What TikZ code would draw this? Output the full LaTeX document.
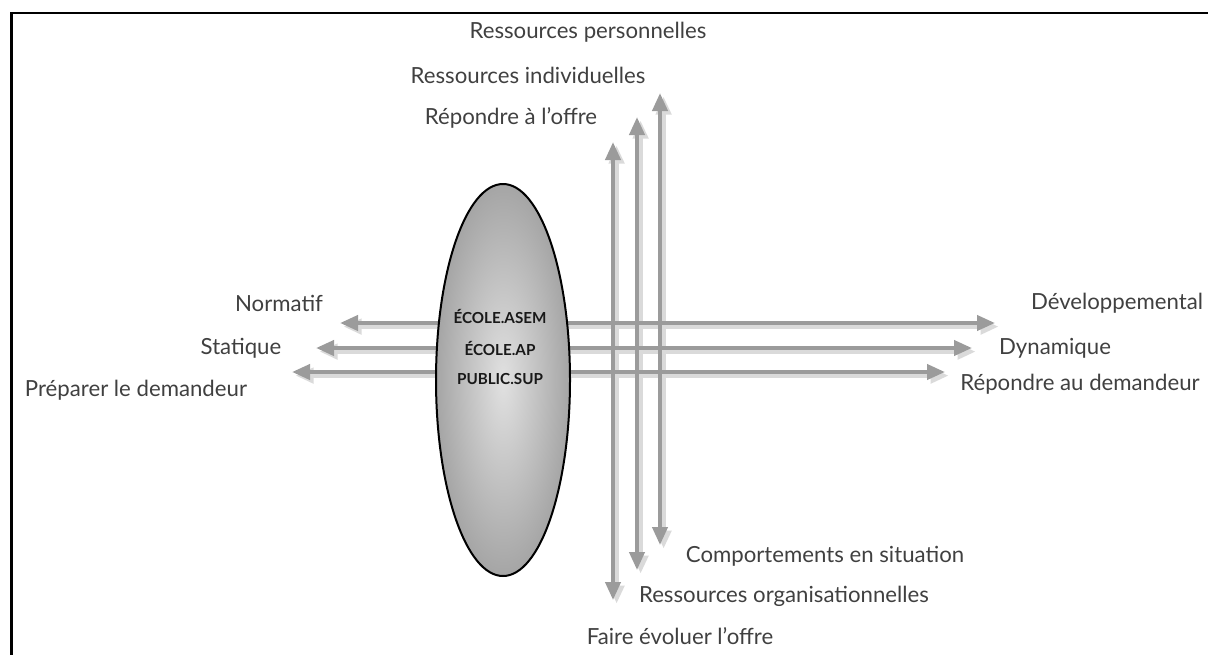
\documentclass[tikz,border=0pt]{standalone}
\usepackage{fontspec}
\setmainfont{Lato}
\usetikzlibrary{arrows.meta,shapes.geometric}
\definecolor{txt}{RGB}{64,64,64}
\definecolor{arr}{RGB}{155,155,155}
\definecolor{shd}{RGB}{218,218,218}
\tikzset{
  lbl/.style={text=txt,font=\fontsize{11.1}{13}\selectfont,inner sep=0pt},
  ell/.style={text=black!90,font=\bfseries\fontsize{7.6}{9}\selectfont,inner sep=0pt},
  arrboth/.style={draw=arr,line width=2pt,arrows={Triangle[length=9pt,width=7.5pt]-Triangle[length=9pt,width=7.5pt]}},
  shdline/.style={draw=shd,line width=2.5pt,arrows={Triangle[length=9pt,width=7.5pt]-Triangle[length=9pt,width=7.5pt]}},
}
\begin{document}
\begin{tikzpicture}[x=0.5pt,y=-0.5pt]
\useasboundingbox (0,0) rectangle (1208,654);
% frame
\draw[line width=1.2pt,line cap=rect] (11.5,660) -- (11.5,13) -- (1215,13);
% coordinates of arrow tips
\coordinate (h1l) at (340,323); \coordinate (h1r) at (995,323);
\coordinate (h2l) at (316,348); \coordinate (h2r) at (972,348);
\coordinate (h3l) at (292,372); \coordinate (h3r) at (945,372);
\coordinate (v1t) at (613,142); \coordinate (v1b) at (613,600);
\coordinate (v2t) at (637,117); \coordinate (v2b) at (637,570);
\coordinate (v3t) at (660,93);  \coordinate (v3b) at (660,545);
% shadows
\foreach \a/\b in {h1l/h1r,h2l/h2r,h3l/h3r,v1t/v1b,v2t/v2b,v3t/v3b}
  \draw[shdline,transform canvas={shift={(1.8pt,-1.8pt)}}] (\a) -- (\b);
% horizontal arrows
\draw[arrboth] (h1l) -- (h1r);
\draw[arrboth] (h2l) -- (h2r);
\draw[arrboth] (h3l) -- (h3r);
% ellipse
\node[ellipse,draw=black,line width=1pt,minimum width=67pt,minimum height=196pt,
      inner color={rgb,255:red,225;green,225;blue,225},outer color={rgb,255:red,165;green,165;blue,165}] (e) at (503,380) {};
\node[ell] (t1) at (500,316) {ÉCOLE.ASEM};
\node[ell] (t2) at (500,348) {ÉCOLE.AP};
\node[ell] (t3) at (500,379) {PUBLIC.SUP};
% vertical arrows
\draw[arrboth] (v1t) -- (v1b);
\draw[arrboth] (v2t) -- (v2b);
\draw[arrboth] (v3t) -- (v3b);
% labels
\node[lbl] (rp) at (588,32) {Ressources personnelles};
\node[lbl] (ri) at (528,75) {Ressources individuelles};
\node[lbl] (ro) at (511,118) {Répondre à l’offre};
\node[lbl] (no) at (279,303) {Norma{}tif};
\node[lbl] (st) at (241,348) {Statique};
\node[lbl] (pd) at (136,390) {Préparer le demandeur};
\node[lbl] (de) at (1117,303) {Développemental};
\node[lbl] (dy) at (1055,348) {Dynamique};
\node[lbl] (rd) at (1080,384) {Répondre au demandeur};
\node[lbl] (cs) at (825,556) {Comportements en situation};
\node[lbl] (rorg) at (784,596) {Ressources organisationnelles};
\node[lbl] (fe) at (680,636) {Faire évoluer l’offre};
\end{tikzpicture}
\end{document}
